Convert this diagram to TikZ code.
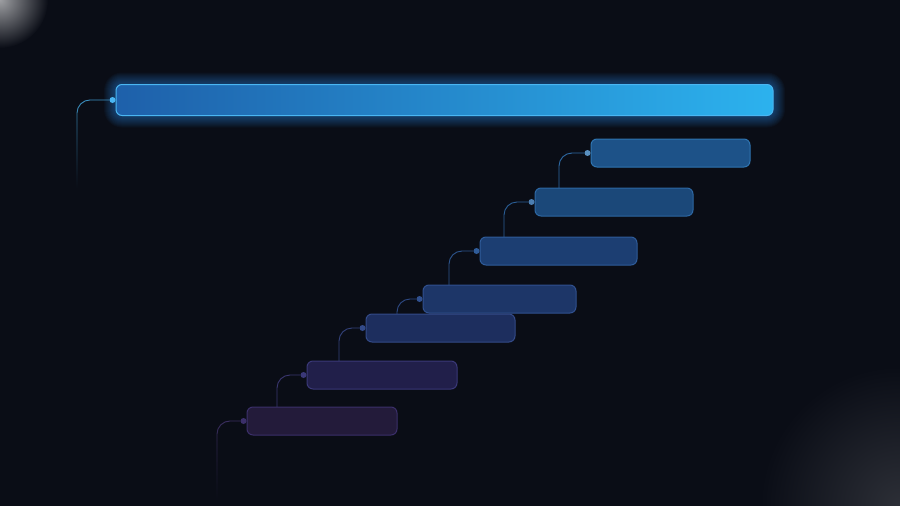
\documentclass[tikz,border=0pt]{standalone}
\usetikzlibrary{fadings}
\definecolor{bg}{HTML}{0A0D16}
\definecolor{glowc}{HTML}{2A8BE8}
\definecolor{tbL}{HTML}{1E60AA}
\definecolor{tbR}{HTML}{2CB2EE}
\definecolor{tbB}{HTML}{4AB6F2}
\definecolor{fa}{HTML}{1D5288}\definecolor{ba}{HTML}{2F74B0}\definecolor{ca}{HTML}{2E6AA5}
\definecolor{fb}{HTML}{1B4879}\definecolor{bb}{HTML}{2D67A3}\definecolor{cb}{HTML}{2B5F98}
\definecolor{fc}{HTML}{1C3E72}\definecolor{bc}{HTML}{2F5C9A}\definecolor{cc}{HTML}{2D558E}
\definecolor{fd}{HTML}{1D3668}\definecolor{bd}{HTML}{30508F}\definecolor{cd}{HTML}{2E4A85}
\definecolor{fe}{HTML}{1D2E5E}\definecolor{be}{HTML}{334A88}\definecolor{ce}{HTML}{33417A}
\definecolor{ff}{HTML}{211F4A}\definecolor{bff}{HTML}{3A3878}\definecolor{cf}{HTML}{3A3670}
\definecolor{fg}{HTML}{231B3A}\definecolor{bg7}{HTML}{3B2F6A}\definecolor{cg}{HTML}{3C2F62}
\tikzset{
  bar/.style={rounded corners=6pt, inner sep=0pt, line width=1pt},
  conn/.style={line width=0.9pt, rounded corners=13pt},
  pin/.style={circle, inner sep=0pt, minimum size=6pt},
}
\begin{document}
\begin{tikzpicture}[x=1pt,y=-1pt]
\useasboundingbox (0,0) rectangle (900,506);
\fill[bg] (0,0) rectangle (900,506);
\begin{scope}
\clip (0,0) rectangle (900,506);
\shade[inner color=white!60!bg, outer color=bg] (0,0) circle (48);
\shade[inner color=white!14!bg, outer color=bg] (900,506) circle (140);
\end{scope}

% glow of the top bar
\foreach \i in {1,...,12}{
  \fill[glowc, opacity=0.045, rounded corners=6+\i] (116-\i,84.5-\i) rectangle (773+\i,115.5+\i);
}
% top bar
\node[bar, draw=tbB, left color=tbL, right color=tbR, minimum width=657pt, minimum height=31pt] (tb) at (444.5,100) {};

% stair bars
\node[bar, draw=ba, fill=fa, minimum width=159pt, minimum height=28pt] (b1) at (670.5,153) {};
\node[bar, draw=bb, fill=fb, minimum width=158pt, minimum height=28pt] (b2) at (614,202) {};
\node[bar, draw=bc, fill=fc, minimum width=157pt, minimum height=28pt] (b3) at (558.5,251) {};
\node[bar, draw=bd, fill=fd, minimum width=153pt, minimum height=28pt] (b4) at (499.5,299) {};
\node[bar, draw=be, fill=fe, minimum width=149pt, minimum height=28pt] (b5) at (440.5,328) {};
\node[bar, draw=bff, fill=ff, minimum width=150pt, minimum height=28pt] (b6) at (382,375) {};
\node[bar, draw=bg7, fill=fg, minimum width=150pt, minimum height=28pt] (b7) at (322,421) {};

% connector ends
\coordinate (k0) at (77,188);
\coordinate (k1) at (559,188);
\coordinate (k2) at (504,237);
\coordinate (k3) at (449,285);
\coordinate (k4) at (397,314);
\coordinate (k5) at (339,361);
\coordinate (k6) at (277,407);
\coordinate (k7) at (217,502);

% pins
\node[pin, fill=tbB] (p0) at ([xshift=-3pt]tb.west) {};
\node[pin, fill=ba!80!white] (p1) at ([xshift=-3pt]b1.west) {};
\node[pin, fill=bb!85!white] (p2) at ([xshift=-3pt]b2.west) {};
\node[pin, fill=bc] (p3) at ([xshift=-3pt]b3.west) {};
\node[pin, fill=bd] (p4) at ([xshift=-3pt]b4.west) {};
\node[pin, fill=be] (p5) at ([xshift=-3pt]b5.west) {};
\node[pin, fill=bff] (p6) at ([xshift=-3pt]b6.west) {};
\node[pin, fill=bg7] (p7) at ([xshift=-3pt]b7.west) {};

% connectors
\draw[conn, draw=tbB!80!bg, path fading=south] (p0.west) -| (k0);
\draw[conn, draw=ca] (p1.west) -| (k1);
\draw[conn, draw=cb] (p2.west) -| (k2);
\draw[conn, draw=cc] (p3.west) -| (k3);
\draw[conn, draw=cd] (p4.west) -| (k4);
\draw[conn, draw=ce] (p5.west) -| (k5);
\draw[conn, draw=cf] (p6.west) -| (k6);
\draw[conn, draw=cg, path fading=south] (p7.west) -| (k7);
\end{tikzpicture}
\end{document}
